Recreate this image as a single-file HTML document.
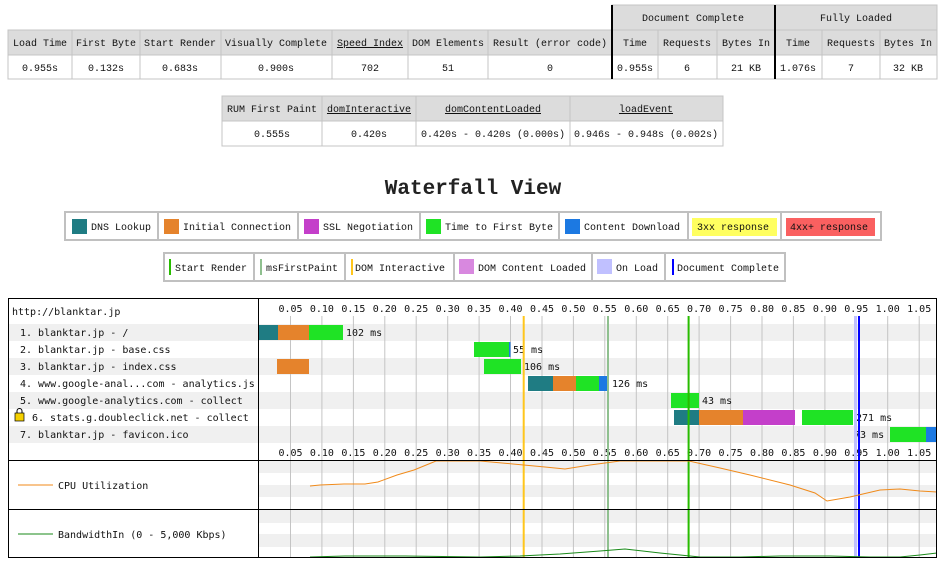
<!DOCTYPE html>
<html><head><meta charset="utf-8"><style>
html,body{margin:0;padding:0;background:#fff;width:945px;height:562px;overflow:hidden}
svg{display:block}
.t{font-family:"Liberation Mono","DejaVu Sans Mono",monospace;font-size:10px;fill:#111}
.w{font-family:"DejaVu Sans Mono","Liberation Mono",monospace;font-size:10px;fill:#111}
</style></head><body>
<svg width="945" height="562" viewBox="0 0 945 562" xmlns="http://www.w3.org/2000/svg">
<!-- top table -->
<g stroke="#c4c4c4" stroke-width="1">
<rect x="612" y="5" width="325" height="25" fill="#dcdcdc"/>
<rect x="8" y="30" width="929" height="25" fill="#dcdcdc"/>
<rect x="8" y="55" width="929" height="24" fill="#fff"/>
<line x1="775" y1="5" x2="775" y2="30"/>
<g>
<line x1="72" y1="30" x2="72" y2="79"/><line x1="140" y1="30" x2="140" y2="79"/><line x1="221" y1="30" x2="221" y2="79"/><line x1="332" y1="30" x2="332" y2="79"/><line x1="408" y1="30" x2="408" y2="79"/><line x1="488" y1="30" x2="488" y2="79"/><line x1="658" y1="30" x2="658" y2="79"/><line x1="717" y1="30" x2="717" y2="79"/><line x1="822" y1="30" x2="822" y2="79"/><line x1="880" y1="30" x2="880" y2="79"/>
</g>
</g>
<line x1="612" y1="5" x2="612" y2="79" stroke="#000" stroke-width="2"/>
<line x1="775" y1="5" x2="775" y2="79" stroke="#000" stroke-width="2"/>
<g class="t" text-anchor="middle">
<text x="693" y="21">Document Complete</text><text x="856" y="21">Fully Loaded</text>
<text x="40" y="46">Load Time</text><text x="106" y="46">First Byte</text><text x="180" y="46">Start Render</text><text x="276" y="46">Visually Complete</text><text x="370" y="46" text-decoration="underline">Speed Index</text><text x="448" y="46">DOM Elements</text><text x="550" y="46">Result (error code)</text><text x="635" y="46">Time</text><text x="687" y="46">Requests</text><text x="746" y="46">Bytes In</text><text x="798" y="46">Time</text><text x="851" y="46">Requests</text><text x="908" y="46">Bytes In</text>
<text x="40" y="71">0.955s</text><text x="106" y="71">0.132s</text><text x="180" y="71">0.683s</text><text x="276" y="71">0.900s</text><text x="370" y="71">702</text><text x="448" y="71">51</text><text x="550" y="71">0</text><text x="635" y="71">0.955s</text><text x="687" y="71">6</text><text x="746" y="71">21 KB</text><text x="798" y="71">1.076s</text><text x="851" y="71">7</text><text x="908" y="71">32 KB</text>
</g>
<!-- second table -->
<g stroke="#c4c4c4">
<rect x="222" y="96" width="501" height="25" fill="#dcdcdc"/>
<rect x="222" y="121" width="501" height="25" fill="#fff"/>
<line x1="322" y1="96" x2="322" y2="146"/><line x1="416" y1="96" x2="416" y2="146"/><line x1="570" y1="96" x2="570" y2="146"/>
</g>
<g class="t" text-anchor="middle">
<text x="272" y="112">RUM First Paint</text><text x="369" y="112" text-decoration="underline">domInteractive</text><text x="493" y="112" text-decoration="underline">domContentLoaded</text><text x="646" y="112" text-decoration="underline">loadEvent</text>
<text x="272" y="137">0.555s</text><text x="369" y="137">0.420s</text><text x="493" y="137">0.420s - 0.420s (0.000s)</text><text x="646" y="137">0.946s - 0.948s (0.002s)</text>
</g>
<text x="473" y="194" text-anchor="middle" style="font-family:'Liberation Mono',monospace;font-size:21px;font-weight:bold;fill:#222">Waterfall View</text>
<!-- legend 1 -->
<g stroke="#c0c0c0" stroke-width="2" fill="#fff">
<rect x="65" y="212" width="816" height="28"/>
<line x1="158" y1="212" x2="158" y2="240"/><line x1="298" y1="212" x2="298" y2="240"/><line x1="420" y1="212" x2="420" y2="240"/><line x1="559" y1="212" x2="559" y2="240"/><line x1="688" y1="212" x2="688" y2="240"/><line x1="781" y1="212" x2="781" y2="240"/>
<rect x="164" y="253" width="621" height="28"/>
<line x1="254" y1="253" x2="254" y2="281"/><line x1="345" y1="253" x2="345" y2="281"/><line x1="454" y1="253" x2="454" y2="281"/><line x1="592" y1="253" x2="592" y2="281"/><line x1="665" y1="253" x2="665" y2="281"/>
</g>
<rect x="72" y="219" width="15" height="15" fill="#1f7c83"/>
<rect x="164" y="219" width="15" height="15" fill="#e5832c"/>
<rect x="304" y="219" width="15" height="15" fill="#c43fca"/>
<rect x="426" y="219" width="15" height="15" fill="#1fe325"/>
<rect x="565" y="219" width="15" height="15" fill="#1c79e2"/>
<rect x="692" y="218" width="85" height="18" fill="#ffff60"/>
<rect x="786" y="218" width="89" height="18" fill="#fa6060"/>
<rect x="169" y="259" width="2" height="16" fill="#28bc00"/>
<rect x="260" y="259" width="2" height="16" fill="#8fc08f"/>
<rect x="351" y="259" width="2" height="16" fill="#ffc61c"/>
<rect x="459" y="259" width="15" height="15" fill="#d888df"/>
<rect x="597" y="259" width="15" height="15" fill="#c0c0ff"/>
<rect x="672" y="259" width="2" height="16" fill="#0000ff"/>
<g class="t">
<text x="91" y="230">DNS Lookup</text><text x="183" y="230">Initial Connection</text><text x="323" y="230">SSL Negotiation</text><text x="445" y="230">Time to First Byte</text><text x="584" y="230">Content Download</text><text x="697" y="230">3xx response</text><text x="790" y="230">4xx+ response</text>
<text x="175" y="271">Start Render</text><text x="266" y="271">msFirstPaint</text><text x="355" y="271">DOM Interactive</text><text x="478" y="271">DOM Content Loaded</text><text x="616" y="271">On Load</text><text x="677" y="271">Document Complete</text>
</g>
<!-- waterfall -->
<rect x="8" y="324" width="929" height="17" fill="#f0f0f0"/>
<rect x="8" y="358" width="929" height="17" fill="#f0f0f0"/>
<rect x="8" y="392" width="929" height="17" fill="#f0f0f0"/>
<rect x="8" y="426" width="929" height="17" fill="#f0f0f0"/>
<rect x="259" y="460" width="678" height="13" fill="#f0f0f0"/>
<rect x="259" y="485" width="678" height="12" fill="#f0f0f0"/>
<rect x="259" y="509" width="678" height="14" fill="#f0f0f0"/>
<rect x="259" y="534" width="678" height="13" fill="#f0f0f0"/>
<g stroke="#c4c4c4" stroke-width="1">
<line x1="290.5" y1="316" x2="290.5" y2="558"/><line x1="321.9" y1="316" x2="321.9" y2="558"/><line x1="353.4" y1="316" x2="353.4" y2="558"/><line x1="384.8" y1="316" x2="384.8" y2="558"/><line x1="416.2" y1="316" x2="416.2" y2="558"/><line x1="447.7" y1="316" x2="447.7" y2="558"/><line x1="479.1" y1="316" x2="479.1" y2="558"/><line x1="510.5" y1="316" x2="510.5" y2="558"/><line x1="542" y1="316" x2="542" y2="558"/><line x1="573.4" y1="316" x2="573.4" y2="558"/><line x1="604.8" y1="316" x2="604.8" y2="558"/><line x1="636.3" y1="316" x2="636.3" y2="558"/><line x1="667.7" y1="316" x2="667.7" y2="558"/><line x1="699.1" y1="316" x2="699.1" y2="558"/><line x1="730.6" y1="316" x2="730.6" y2="558"/><line x1="762" y1="316" x2="762" y2="558"/><line x1="793.4" y1="316" x2="793.4" y2="558"/><line x1="824.9" y1="316" x2="824.9" y2="558"/><line x1="856.3" y1="316" x2="856.3" y2="558"/><line x1="887.7" y1="316" x2="887.7" y2="558"/><line x1="919.2" y1="316" x2="919.2" y2="558"/>
</g>
<g class="w" text-anchor="middle">
<text x="290.5" y="312">0.05</text><text x="321.9" y="312">0.10</text><text x="353.4" y="312">0.15</text><text x="384.8" y="312">0.20</text><text x="416.2" y="312">0.25</text><text x="447.7" y="312">0.30</text><text x="479.1" y="312">0.35</text><text x="510.5" y="312">0.40</text><text x="542" y="312">0.45</text><text x="573.4" y="312">0.50</text><text x="604.8" y="312">0.55</text><text x="636.3" y="312">0.60</text><text x="667.7" y="312">0.65</text><text x="699.1" y="312">0.70</text><text x="730.6" y="312">0.75</text><text x="762" y="312">0.80</text><text x="793.4" y="312">0.85</text><text x="824.9" y="312">0.90</text><text x="856.3" y="312">0.95</text><text x="887.7" y="312">1.00</text><text x="919.2" y="312">1.05</text>
<text x="290.5" y="456">0.05</text><text x="321.9" y="456">0.10</text><text x="353.4" y="456">0.15</text><text x="384.8" y="456">0.20</text><text x="416.2" y="456">0.25</text><text x="447.7" y="456">0.30</text><text x="479.1" y="456">0.35</text><text x="510.5" y="456">0.40</text><text x="542" y="456">0.45</text><text x="573.4" y="456">0.50</text><text x="604.8" y="456">0.55</text><text x="636.3" y="456">0.60</text><text x="667.7" y="456">0.65</text><text x="699.1" y="456">0.70</text><text x="730.6" y="456">0.75</text><text x="762" y="456">0.80</text><text x="793.4" y="456">0.85</text><text x="824.9" y="456">0.90</text><text x="856.3" y="456">0.95</text><text x="887.7" y="456">1.00</text><text x="919.2" y="456">1.05</text>
</g>
<!-- bars -->
<g>
<rect x="259" y="325" width="19" height="15" fill="#1f7c83"/><rect x="278" y="325" width="31" height="15" fill="#e5832c"/><rect x="309" y="325" width="34" height="15" fill="#1fe325"/>
<rect x="474" y="342" width="36" height="15" fill="#1fe325"/><rect x="509" y="342" width="1.5" height="15" fill="#1c79e2"/>
<rect x="277" y="359" width="32" height="15" fill="#e5832c"/>
<rect x="484" y="359" width="37" height="15" fill="#1fe325"/>
<rect x="528" y="376" width="25" height="15" fill="#1f7c83"/><rect x="553" y="376" width="23" height="15" fill="#e5832c"/><rect x="576" y="376" width="23" height="15" fill="#1fe325"/><rect x="599" y="376" width="10" height="15" fill="#1c79e2"/>
<rect x="671" y="393" width="28" height="15" fill="#1fe325"/>
<rect x="674" y="410" width="25" height="15" fill="#1f7c83"/><rect x="699" y="410" width="44" height="15" fill="#e5832c"/><rect x="743" y="410" width="52" height="15" fill="#c43fca"/><rect x="802" y="410" width="51" height="15" fill="#1fe325"/>
<rect x="890" y="427" width="36" height="15" fill="#1fe325"/><rect x="926" y="427" width="11" height="15" fill="#1c79e2"/>
</g>
<g class="w">
<text x="346" y="336">102 ms</text><text x="513" y="353">55 ms</text><text x="524" y="370">106 ms</text><text x="612" y="387">126 ms</text><text x="702" y="404">43 ms</text><text x="856" y="421">271 ms</text><text x="854" y="438">73 ms</text>
</g>
<!-- event lines -->
<rect x="522.7" y="316" width="2" height="242" fill="#ffc61c"/>
<rect x="607" y="316" width="2" height="242" fill="#8fc08f"/>
<rect x="687.6" y="316" width="2" height="242" fill="#28bc00"/>
<rect x="854" y="316" width="3" height="242" fill="#c0c0ff"/>
<rect x="858" y="316" width="2" height="242" fill="#0000ff"/>
<!-- cpu -->
<polyline fill="none" stroke="#f08a1a" stroke-width="1" points="310,486 320,485 344,484 365,484 378,482 397,475 414,470 436,461 480,461 513,464 545,467 565,469 590,465 620,461 689,461 720,468 750,475 790,485 815,493 827,501 850,497 880,490 900,489 920,491 937,492"/>
<polyline fill="none" stroke="#1a8a1a" stroke-width="1" points="310,557 345,556 405,556 480,557 520,556 560,554 600,551 625,549 660,553 700,557 740,557 780,556 830,556 870,557 900,557 920,555 937,553"/>
<!-- frame -->
<g stroke="#000" stroke-width="1" fill="none">
<rect x="8.5" y="298.5" width="928" height="259"/>
<line x1="258.5" y1="298" x2="258.5" y2="558"/>
<line x1="8" y1="460.5" x2="937" y2="460.5"/>
<line x1="8" y1="509.5" x2="937" y2="509.5"/>
</g>
<g class="w">
<text x="12" y="315">http://blanktar.jp</text>
<text x="20" y="336">1. blanktar.jp - /</text>
<text x="20" y="353">2. blanktar.jp - base.css</text>
<text x="20" y="370">3. blanktar.jp - index.css</text>
<text x="20" y="387">4. www.google-anal...com - analytics.js</text>
<text x="20" y="404">5. www.google-analytics.com - collect</text>
<text x="32" y="421">6. stats.g.doubleclick.net - collect</text>
<text x="20" y="438">7. blanktar.jp - favicon.ico</text>
<text x="58" y="489">CPU Utilization</text>
<text x="58" y="538">BandwidthIn (0 - 5,000 Kbps)</text>
</g>
<rect x="15" y="413" width="9" height="8" fill="#f5d000" stroke="#000" stroke-width="0.7"/>
<path d="M17 413 v-2 a2.5 2.5 0 0 1 5 0 v2" fill="none" stroke="#000" stroke-width="1"/>
<line x1="18" y1="485" x2="53" y2="485" stroke="#f08a1a"/>
<line x1="18" y1="534" x2="53" y2="534" stroke="#1a8a1a"/>
</svg>
</body></html>
